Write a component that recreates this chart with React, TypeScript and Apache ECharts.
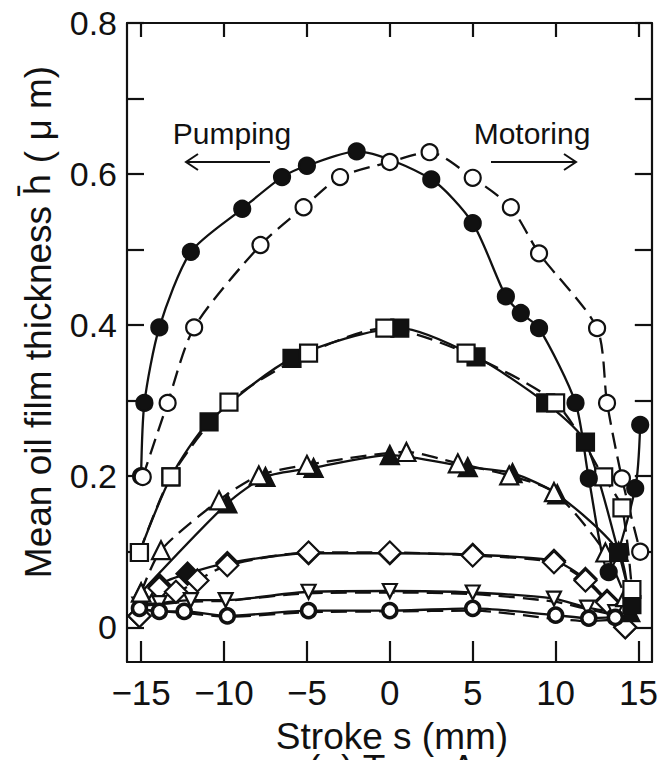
import React, { useEffect, useRef } from "react";
import * as echarts from "echarts";

// ---- tick values ----
const xTickValues = [-15, -10, -5, 0, 5, 10, 15];
const yTickValues = [0, 0.1, 0.2, 0.3, 0.4, 0.5, 0.6, 0.7, 0.8];
const yLabelValues = [0, 0.2, 0.4, 0.6, 0.8];

// ---- series data (stroke s in mm, mean film thickness in um) ----
// Circles, pumping (filled, solid)
const sCircleP = [-15.0, -14.8, -13.9, -12.0, -8.9, -6.5, -5.0, -2.0, 2.5, 5.0, 7.0, 7.9, 9.0, 11.2, 12.0, 13.2, 14.8, 15.1];
const hCircleP = [0.2, 0.297, 0.397, 0.497, 0.554, 0.596, 0.611, 0.63, 0.593, 0.535, 0.438, 0.416, 0.396, 0.297, 0.197, 0.073, 0.184, 0.268];
// Circles, motoring (open, dashed)
const sCircleM = [-14.9, -13.4, -11.8, -7.8, -5.2, -3.0, 0.0, 2.4, 5.0, 7.3, 9.0, 12.5, 13.1, 14.0, 15.1];
const hCircleM = [0.199, 0.297, 0.397, 0.506, 0.556, 0.596, 0.616, 0.629, 0.595, 0.556, 0.495, 0.396, 0.297, 0.197, 0.1];
// Squares, pumping (filled, solid)
const sSquareP = [-15.1, -13.2, -10.9, -5.9, 0.6, 5.2, 9.4, 11.8, 13.8, 14.6];
const hSquareP = [0.099, 0.199, 0.272, 0.356, 0.396, 0.358, 0.297, 0.245, 0.099, 0.03];
// Squares, motoring (open, dashed)
const sSquareM = [-15.1, -13.2, -9.7, -4.9, -0.3, 4.6, 10.0, 12.9, 14.0, 14.6];
const hSquareM = [0.099, 0.199, 0.298, 0.363, 0.396, 0.363, 0.297, 0.199, 0.158, 0.05];
// Triangles, pumping (filled, solid)
const sTriP = [-15.0, -9.8, -7.5, -4.6, 0.0, 4.7, 7.4, 10.1, 13.8, 14.5];
const hTriP = [0.046, 0.164, 0.199, 0.211, 0.228, 0.212, 0.204, 0.176, 0.1, 0.02];
// Triangles, motoring (open, dashed)
const sTriM = [-15.0, -13.8, -10.3, -7.9, -5.0, 1.0, 4.1, 7.2, 9.9, 13.0, 14.2];
const hTriM = [0.046, 0.102, 0.168, 0.201, 0.215, 0.232, 0.217, 0.201, 0.179, 0.099, 0.04];
// Diamonds, pumping (filled, solid)
const sDiaP = [-15.1, -13.9, -12.2, -9.8, -4.9, 0.0, 5.0, 9.9, 11.8, 13.1, 14.2];
const hDiaP = [0.015, 0.056, 0.071, 0.085, 0.098, 0.098, 0.096, 0.088, 0.064, 0.035, 0.0];
// Diamonds, motoring (open, dashed)
const sDiaM = [-15.1, -13.9, -12.9, -11.6, -9.8, -4.9, 0.0, 5.0, 9.9, 11.8, 13.1, 14.2];
const hDiaM = [0.015, 0.052, 0.047, 0.062, 0.082, 0.099, 0.099, 0.095, 0.086, 0.062, 0.033, 0.0];
// Inverted triangles (open, solid)
const sInvTri = [-15.1, -13.9, -12.0, -9.9, -4.9, 0.0, 5.0, 9.9, 11.9, 13.6];
const hInvTri = [0.03, 0.032, 0.036, 0.036, 0.047, 0.048, 0.046, 0.038, 0.026, 0.02];
// Inverted triangles, dashed
const sInvTriM = [-15.1, -12.0, -9.9, -4.9, 0.0, 5.0, 9.9, 11.9, 13.6];
const hInvTriM = [0.028, 0.034, 0.035, 0.045, 0.046, 0.044, 0.034, 0.024, 0.016];
// Small thick circles (open, solid)
const sSmallC = [-15.1, -13.9, -12.4, -9.8, -4.9, 0.0, 5.0, 10.0, 12.0, 13.6];
const hSmallC = [0.025, 0.021, 0.021, 0.015, 0.022, 0.022, 0.025, 0.016, 0.012, 0.013];
// Small circles, dashed
const sSmallCM = [-15.1, -12.4, -9.8, -4.9, 0.0, 5.0, 10.0, 12.0, 13.6, 14.5];
const hSmallCM = [0.023, 0.019, 0.014, 0.02, 0.021, 0.022, 0.011, 0.008, 0.01, 0.0];

const FONT = "'Liberation Sans', Arial, Helvetica, sans-serif";

function pairs(s: number[], h: number[]) {
  return s.map((v, i) => [v, h[i]]);
}

function mk(
  name: string,
  s: number[],
  h: number[],
  o: { symbol: string; size: number; filled: boolean; dashed: boolean; rotate?: number; bw?: number; noSymbol?: boolean; smooth?: number }
) {
  return {
    name,
    type: "line",
    data: pairs(s, h),
    symbol: o.noSymbol ? "none" : o.symbol,
    symbolSize: o.size,
    symbolRotate: o.rotate || 0,
    smooth: o.smooth ?? 0.25,
    showSymbol: !o.noSymbol,
    lineStyle: { color: "#111", width: 2.3, type: o.dashed ? [16, 8] : "solid" },
    itemStyle: {
      color: o.filled ? "#111" : "#fff",
      borderColor: "#111",
      borderWidth: o.bw ?? 2.2,
      opacity: 1,
    },
    z: 3,
  };
}

export default function App() {
  const ref = useRef<HTMLDivElement>(null);
  useEffect(() => {
    if (!ref.current) return;
    const chart = echarts.init(ref.current, undefined, { renderer: "svg" });
    const fmtX = (v: number) => (v < 0 ? "\u2212" + Math.abs(v) : String(v));
    const fmtY = (v: number) => (v === 0 ? "0" : v.toFixed(1));
    const option: any = {
      animation: false,
      backgroundColor: "#fff",
      grid: { left: 127, right: 6, top: 23, bottom: 98, containLabel: false },
      xAxis: [
        {
          type: "value",
          position: "bottom",
          min: -15.85,
          max: 15.8,
          axisLine: { show: true, onZero: false, lineStyle: { color: "#111", width: 2.2 } },
          axisTick: { show: true, inside: true, length: 21, customValues: xTickValues, lineStyle: { color: "#111", width: 2.2 } },
          axisLabel: { show: true, customValues: xTickValues, formatter: fmtX, margin: 13, fontSize: 35, color: "#111", fontFamily: FONT },
          splitLine: { show: false },
        },
        {
          type: "value",
          position: "top",
          min: -15.85,
          max: 15.8,
          axisLine: { show: true, onZero: false, lineStyle: { color: "#111", width: 2.2 } },
          axisTick: { show: true, inside: true, length: 14, customValues: xTickValues, lineStyle: { color: "#111", width: 2.2 } },
          axisLabel: { show: false },
          splitLine: { show: false },
        },
      ],
      yAxis: [
        {
          type: "value",
          position: "left",
          min: -0.046,
          max: 0.8,
          axisLine: { show: true, onZero: false, lineStyle: { color: "#111", width: 2.2 } },
          axisTick: { show: true, inside: true, length: 17, customValues: yTickValues, lineStyle: { color: "#111", width: 2.2 } },
          axisLabel: { show: true, customValues: yLabelValues, formatter: fmtY, margin: 10, fontSize: 34, color: "#111", fontFamily: FONT },
          splitLine: { show: false },
        },
        {
          type: "value",
          position: "right",
          min: -0.046,
          max: 0.8,
          axisLine: { show: true, onZero: false, lineStyle: { color: "#111", width: 2.2 } },
          axisTick: { show: true, inside: true, length: 17, customValues: yTickValues, lineStyle: { color: "#111", width: 2.2 } },
          axisLabel: { show: false },
          splitLine: { show: false },
        },
      ],
      series: [
        mk("smallC dashed", sSmallCM, hSmallCM, { symbol: "circle", size: 0, filled: false, dashed: true, noSymbol: true }),
        mk("invtri dashed", sInvTriM, hInvTriM, { symbol: "triangle", size: 0, filled: false, dashed: true, noSymbol: true }),
        mk("diamond P", sDiaP, hDiaP, { symbol: "diamond", size: 22, filled: true, dashed: false }),
        mk("diamond M", sDiaM, hDiaM, { symbol: "diamond", size: 22, filled: false, dashed: true }),
        mk("invtri", sInvTri, hInvTri, { symbol: "triangle", size: 14, filled: false, dashed: false, rotate: 180 }),
        mk("smallC", sSmallC, hSmallC, { symbol: "circle", size: 14, filled: false, dashed: false, bw: 3.5 }),
        mk("tri P", sTriP, hTriP, { symbol: "triangle", size: 18, filled: true, dashed: false }),
        mk("tri M", sTriM, hTriM, { symbol: "triangle", size: 18, filled: false, dashed: true }),
        mk("square P", sSquareP, hSquareP, { symbol: "rect", size: 17, filled: true, dashed: false }),
        mk("square M", sSquareM, hSquareM, { symbol: "rect", size: 17, filled: false, dashed: true }),
        mk("circle P", sCircleP, hCircleP, { symbol: "circle", size: 16, filled: true, dashed: false }),
        mk("circle M", sCircleM, hCircleM, { symbol: "circle", size: 16, filled: false, dashed: true }),
      ],
      graphic: [
        {
          type: "text",
          x: 38,
          y: 322,
          rotation: Math.PI / 2,
          style: {
            text: "Mean oil film thickness {h|h\u0304} ( \u03bc m)",
            font: `37px ${FONT}`,
            fill: "#111",
            textAlign: "center",
            textVerticalAlign: "middle",
            rich: { h: { fontFamily: "'DejaVu Sans', sans-serif", fontSize: 35, fill: "#111" } },
          },
        },
        {
          type: "text",
          x: 392,
          y: 736,
          style: { text: "Stroke s (mm)", font: `37px ${FONT}`, fill: "#111", textAlign: "center", textVerticalAlign: "middle" },
        },
        {
          type: "text",
          x: 392,
          y: 750,
          style: { text: "(a) Type A", font: `37px ${FONT}`, fill: "#111", textAlign: "center", textVerticalAlign: "top" },
        },
        {
          type: "text",
          x: 232,
          y: 133,
          style: { text: "Pumping", font: `30px ${FONT}`, fill: "#111", textAlign: "center", textVerticalAlign: "middle" },
        },
        {
          type: "text",
          x: 532,
          y: 133,
          style: { text: "Motoring", font: `30px ${FONT}`, fill: "#111", textAlign: "center", textVerticalAlign: "middle" },
        },
        { type: "line", shape: { x1: 186, y1: 162, x2: 270, y2: 162 }, style: { stroke: "#111", lineWidth: 2 } },
        { type: "polyline", shape: { points: [[198, 154], [186, 162], [198, 170]] }, style: { stroke: "#111", lineWidth: 2, fill: "none" } },
        { type: "line", shape: { x1: 491, y1: 162, x2: 576, y2: 162 }, style: { stroke: "#111", lineWidth: 2 } },
        { type: "polyline", shape: { points: [[564, 154], [576, 162], [564, 170]] }, style: { stroke: "#111", lineWidth: 2, fill: "none" } },
      ],
    };
    chart.setOption(option);
    return () => chart.dispose();
  }, []);
  return <div ref={ref} style={{ position: "fixed", left: 0, top: 0, width: 661, height: 760 }} />;
}
